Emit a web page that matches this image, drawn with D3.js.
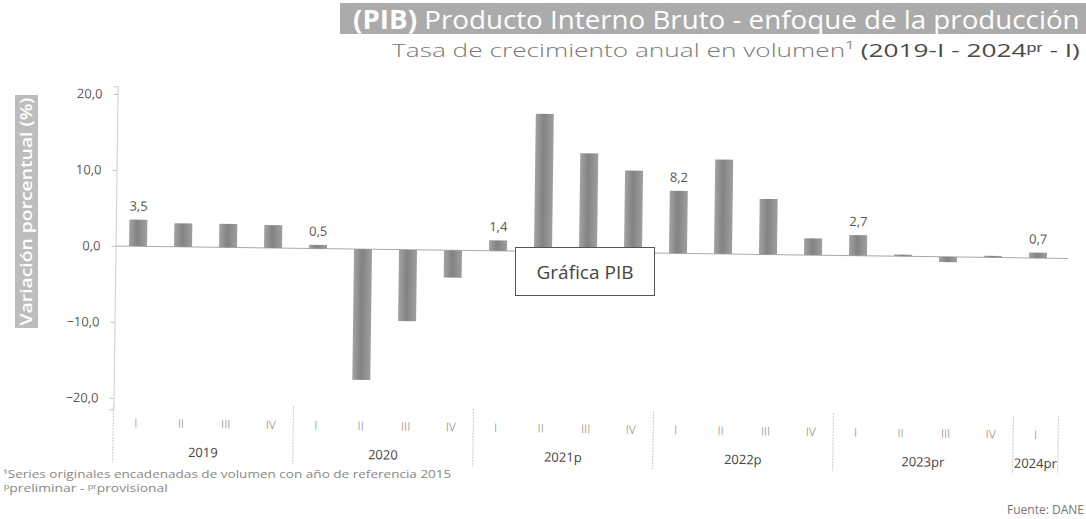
<!DOCTYPE html>
<html>
<head>
<meta charset="utf-8">
<script src="https://cdn.jsdelivr.net/npm/d3@7"></script>
<style>
  body { margin: 0; background: #fff; }
  svg { display: block; font-family: "Open Sans", sans-serif; }
</style>
</head>
<body>
<svg id="chart" width="1086" height="519"></svg>
<script>
//----------------------------------------------------------------------------------------------------------------------
// Data
//----------------------------------------------------------------------------------------------------------------------
const years = ["2019", "2020", "2021p", "2022p", "2023pr", "2024pr"];
const quartersPerYear = [4, 4, 4, 4, 4, 1];
const quarterNames = ["I", "II", "III", "IV"];
const growth = [3.5, 3.1, 3.1, 3.0,
                0.5, -17.2, -9.4, -3.6,
                1.4, 18.1, 13.0, 10.8,
                8.2, 12.4, 7.3, 2.2,
                2.7, 0.2, -0.7, 0.2,
                0.7];
const yTicks = [-20, -10, 0, 10, 20];

let periods = [];
years.forEach(function(yr, i) {
    for (let q = 0; q < quartersPerYear[i]; ++q) {
        periods.push({key: yr + "-" + q, year: yr, quarter: quarterNames[q], first: q === 0});
    }
});
periods.forEach(function(p, i) { p.value = growth[i]; });

//----------------------------------------------------------------------------------------------------------------------
// Scales
//----------------------------------------------------------------------------------------------------------------------
const svg = d3.select("#chart");
const zeroY = 252;
const unit = 7.6;

const x = d3.scaleBand()
    .domain(periods.map(function(d) { return d.key; }))
    .range([115.5, 1060.5])
    .paddingInner(0.6)
    .paddingOuter(0.3);

const y = d3.scaleLinear()
    .domain([-21.5, 21])
    .range([zeroY + 21.5 * unit, zeroY - 21 * unit]);

const comma = function(v) { return d3.format(".1f")(v).replace(".", ","); };

const defs = svg.append("defs");
const grad = defs.append("linearGradient").attr("id", "barGrad")
    .attr("x1", "0%").attr("x2", "100%").attr("y1", "0%").attr("y2", "0%");
grad.append("stop").attr("offset", "0%").attr("stop-color", "#a3a3a3");
grad.append("stop").attr("offset", "45%").attr("stop-color", "#828282");
grad.append("stop").attr("offset", "100%").attr("stop-color", "#9f9f9f");

//----------------------------------------------------------------------------------------------------------------------
// Title
//----------------------------------------------------------------------------------------------------------------------
svg.append("rect")
    .attr("x", 340).attr("y", 3).attr("width", 746).attr("height", 31)
    .attr("fill", "#ababab");

function fitText(t, x0, x1, yb) {
    const w = t.node().getBBox().width;
    t.attr("transform", "translate(" + x0 + "," + yb + ") scale(" + ((x1 - x0) / w) + ",1)");
}

const title = svg.append("text").attr("fill", "#fff").attr("font-size", 26);
title.append("tspan").attr("font-weight", 700).text("(PIB)");
title.append("tspan").attr("font-weight", 400).text(" Producto Interno Bruto  - enfoque de la producción");
fitText(title, 353, 1080, 29);

const subtitle = svg.append("text").attr("font-size", 19).attr("fill", "#7a7a7a");
subtitle.append("tspan").attr("font-weight", 300).text("Tasa de crecimiento anual en volumen¹");
subtitle.append("tspan").attr("fill", "#4a4a4a").text(" (2019-I - 2024ᵖʳ - I)");
fitText(subtitle, 392, 1080, 57);

// y axis title
svg.append("rect")
    .attr("x", 15).attr("y", 95).attr("width", 23).attr("height", 233)
    .attr("fill", "#bdbdbd");
const yTitle = svg.append("text")
    .attr("font-size", 16).attr("font-weight", 600).attr("fill", "#fff")
    .attr("text-anchor", "middle")
    .text("Variación porcentual (%)");
const yw = yTitle.node().getBBox().width;
yTitle.attr("transform", "translate(32,211.5) rotate(-90) scale(" + (228 / yw) + ",1)");

//----------------------------------------------------------------------------------------------------------------------
// Chart body (the scanned page is slightly tilted)
//----------------------------------------------------------------------------------------------------------------------
const g = svg.append("g").attr("transform", "rotate(0.75, 579, " + zeroY + ")");

const yAxis = d3.axisLeft(y)
    .tickValues(yTicks)
    .tickSize(4)
    .tickPadding(11)
    .tickFormat(comma);

const ya = g.append("g")
    .attr("transform", "translate(115.5,0)")
    .call(yAxis);
ya.select(".domain").attr("stroke", "#cfcfcf");
ya.selectAll(".tick line").attr("stroke", "#c4c4c4");
ya.selectAll(".tick text")
    .attr("font-family", "Open Sans, sans-serif")
    .attr("font-size", 13)
    .attr("fill", "#5a5a5a");

// zero line
g.append("line")
    .attr("x1", 115.5).attr("x2", 1068)
    .attr("y1", y(0)).attr("y2", y(0))
    .attr("stroke", "#a9a9a9").attr("stroke-width", 1);

// bars
g.selectAll(".bar")
    .data(periods)
    .enter().append("rect")
    .attr("class", "bar")
    .attr("x", function(d) { return x(d.key); })
    .attr("width", x.bandwidth())
    .attr("y", function(d) { return y(Math.max(0, d.value)); })
    .attr("height", function(d) { return Math.abs(y(d.value) - y(0)); })
    .attr("fill", "url(#barGrad)");

// value labels on the first quarter of every year
g.selectAll(".vlabel")
    .data(periods.filter(function(d) { return d.first; }))
    .enter().append("text")
    .attr("class", "vlabel")
    .attr("x", function(d) { return x(d.key) + x.bandwidth() / 2; })
    .attr("y", function(d) { return y(Math.max(0, d.value)) - 9; })
    .attr("text-anchor", "middle")
    .attr("font-size", 13)
    .attr("fill", "#555")
    .text(function(d) { return comma(d.value); });

// quarter labels
g.selectAll(".qlabel")
    .data(periods)
    .enter().append("text")
    .attr("class", "qlabel")
    .attr("x", function(d) { return x(d.key) + x.bandwidth() / 2; })
    .attr("y", 433)
    .attr("text-anchor", "middle")
    .attr("font-size", 12)
    .attr("font-weight", 300)
    .attr("fill", "#7a7a7a")
    .text(function(d) { return d.quarter; });

// year groups
let groups = [];
let start = 0;
years.forEach(function(yr, i) {
    const n = quartersPerYear[i];
    const x0 = x(periods[start].key) - x.step() * x.paddingInner() / 2;
    groups.push({year: yr, x0: x0, x1: x0 + n * x.step()});
    start += n;
});

g.selectAll(".sep")
    .data([groups[0].x0].concat(groups.map(function(d) { return d.x1; })))
    .enter().append("line")
    .attr("class", "sep")
    .attr("x1", function(d) { return d; }).attr("x2", function(d) { return d; })
    .attr("y1", 410).attr("y2", 468)
    .attr("stroke", "#c8c8c8")
    .attr("stroke-dasharray", "2,1");

g.selectAll(".ylabel")
    .data(groups)
    .enter().append("text")
    .attr("class", "ylabel")
    .attr("x", function(d) { return (d.x0 + d.x1) / 2; })
    .attr("y", 462)
    .attr("text-anchor", "middle")
    .attr("font-size", 13)
    .attr("fill", "#444")
    .text(function(d) { return d.year; });

//----------------------------------------------------------------------------------------------------------------------
// Overlay box and footnotes
//----------------------------------------------------------------------------------------------------------------------
svg.append("rect")
    .attr("x", 515.5).attr("y", 247.5).attr("width", 139).attr("height", 48)
    .attr("fill", "#fff").attr("stroke", "#555").attr("stroke-width", 1);
svg.append("text")
    .attr("x", 585).attr("y", 279)
    .attr("text-anchor", "middle")
    .attr("font-size", 19)
    .attr("fill", "#444")
    .text("Gráfica PIB");

const fn1 = svg.append("text").attr("font-size", 10.5).attr("fill", "#888")
    .text("¹Series originales encadenadas de volumen con año de referencia 2015");
fitText(fn1, 3, 452, 478);

const fn2 = svg.append("text").attr("font-size", 10.5).attr("fill", "#888")
    .text("ᵖpreliminar - ᵖʳprovisional");
fitText(fn2, 4, 168, 492);

svg.append("text")
    .attr("x", 1084).attr("y", 514)
    .attr("text-anchor", "end")
    .attr("font-size", 12)
    .attr("fill", "#777")
    .text("Fuente: DANE");
</script>
</body>
</html>
